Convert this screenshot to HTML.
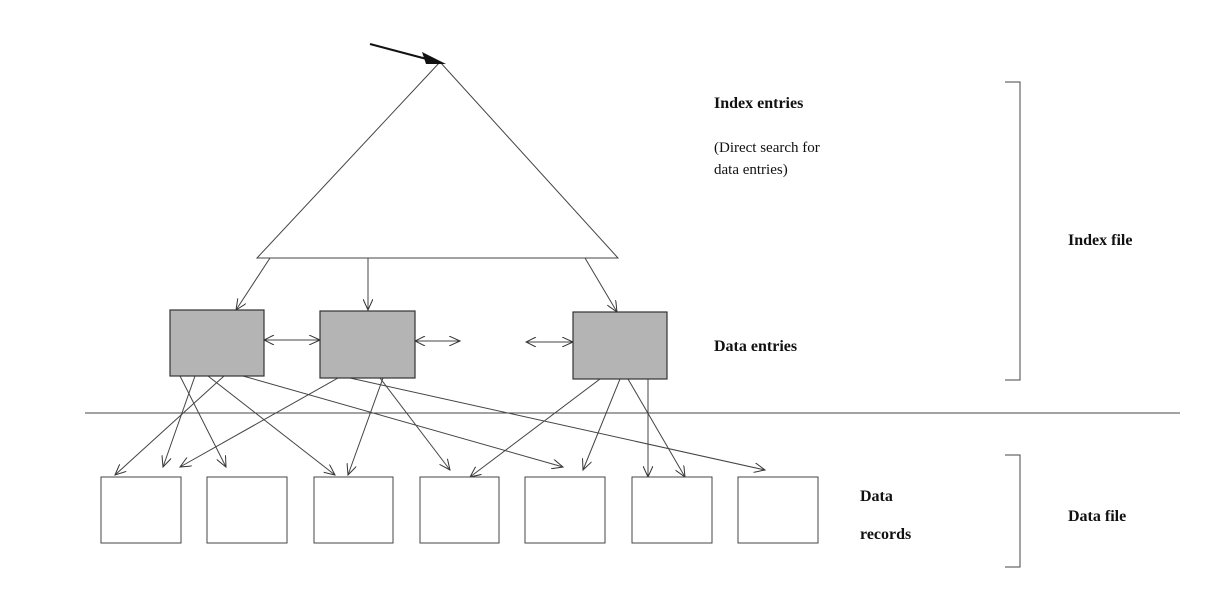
<!DOCTYPE html>
<html><head><style>body{margin:0;background:#fff}svg{display:block}</style></head><body>
<svg width="1222" height="601" viewBox="0 0 1222 601" xmlns="http://www.w3.org/2000/svg" font-family="Liberation Serif, serif" font-size="16">
<defs>
<marker id="a" markerWidth="12" markerHeight="10" refX="11" refY="5" orient="auto" markerUnits="userSpaceOnUse"><path d="M0,0 L11,5 L0,10" fill="none" stroke="#333" stroke-width="1"/></marker>
<marker id="s" markerWidth="12" markerHeight="10" refX="1" refY="5" orient="auto" markerUnits="userSpaceOnUse"><path d="M11,0 L1,5 L11,10" fill="none" stroke="#333" stroke-width="1"/></marker>
</defs>
<g stroke="#444" stroke-width="1" fill="none">
<path d="M440,62 L257,258 L618,258 Z"/>
<line x1="85" y1="413" x2="1180" y2="413"/>
<path d="M1005,82 H1020 V380 H1005"/>
<path d="M1005,455 H1020 V567 H1005"/>
</g>
<line x1="370" y1="44" x2="438" y2="62" stroke="#111" stroke-width="2"/>
<path d="M446,64 L422,52 L426,64 Z" fill="#111"/>
<g stroke="#444" stroke-width="1" fill="none" marker-end="url(#a)">
<line x1="270" y1="258" x2="236" y2="310"/>
<line x1="368" y1="258" x2="368" y2="310"/>
<line x1="585" y1="258" x2="617" y2="312"/>
<line x1="180" y1="376" x2="226" y2="467"/>
<line x1="224" y1="376" x2="115" y2="475"/>
<line x1="208" y1="376" x2="335" y2="475"/>
<line x1="195" y1="376" x2="163" y2="467"/>
<line x1="243" y1="376" x2="563" y2="467"/>
<line x1="338" y1="378" x2="180" y2="467"/>
<line x1="350" y1="378" x2="765" y2="470"/>
<line x1="383" y1="378" x2="348" y2="475"/>
<line x1="380" y1="378" x2="450" y2="470"/>
<line x1="600" y1="379" x2="470" y2="477"/>
<line x1="620" y1="379" x2="583" y2="470"/>
<line x1="648" y1="379" x2="648" y2="477"/>
<line x1="628" y1="379" x2="685" y2="477"/>
<line x1="264" y1="340" x2="320" y2="340" marker-start="url(#s)"/>
<line x1="415" y1="341" x2="460" y2="341" marker-start="url(#s)"/>
<line x1="526" y1="342" x2="573" y2="342" marker-start="url(#s)"/>
</g>
<g fill="#b4b4b4" stroke="#333" stroke-width="1.2">
<rect x="170" y="310" width="94" height="66"/>
<rect x="320" y="311" width="95" height="67"/>
<rect x="573" y="312" width="94" height="67"/>
</g>
<g fill="#fff" stroke="#444" stroke-width="1">
<rect x="101" y="477" width="80" height="66"/>
<rect x="207" y="477" width="80" height="66"/>
<rect x="314" y="477" width="79" height="66"/>
<rect x="420" y="477" width="79" height="66"/>
<rect x="525" y="477" width="80" height="66"/>
<rect x="632" y="477" width="80" height="66"/>
<rect x="738" y="477" width="80" height="66"/>
</g>
<g fill="#111">
<text x="714" y="108" font-weight="bold">Index entries</text>
<text x="714" y="152" font-size="15">(Direct search for</text>
<text x="714" y="174" font-size="15">data entries)</text>
<text x="1068" y="245" font-weight="bold">Index file</text>
<text x="714" y="351" font-weight="bold">Data entries</text>
<text x="860" y="501" font-weight="bold">Data</text>
<text x="860" y="539" font-weight="bold">records</text>
<text x="1068" y="521" font-weight="bold">Data file</text>
</g>
</svg>
</body></html>
